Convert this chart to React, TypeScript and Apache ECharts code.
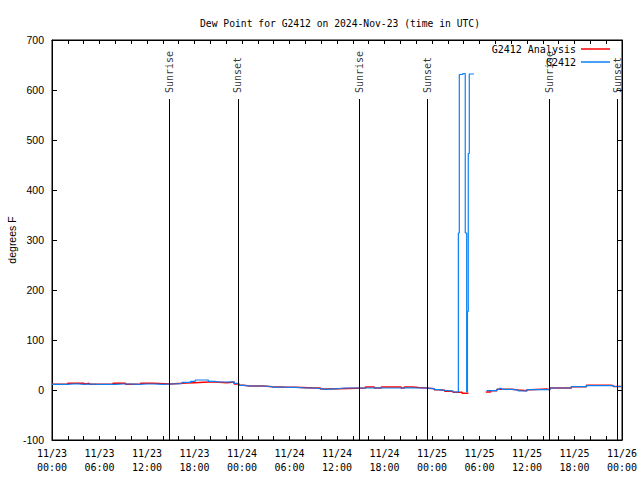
import React, { useEffect, useRef } from "react";
import * as echarts from "echarts";

const titleText = "Dew Point for G2412 on 2024-Nov-23 (time in UTC)";
const xTickLabels = [
  "11/23\n00:00", "11/23\n06:00", "11/23\n12:00", "11/23\n18:00",
  "11/24\n00:00", "11/24\n06:00", "11/24\n12:00", "11/24\n18:00",
  "11/25\n00:00", "11/25\n06:00", "11/25\n12:00", "11/25\n18:00",
  "11/26\n00:00",
];

// hours since 2024-11-23 00:00 UTC
const sunHours = [14.78, 23.49, 38.78, 47.4, 62.78, 71.43];
const sunLabels = ["Sunrise", "Sunset", "Sunrise", "Sunset", "Sunrise", "Sunset"];

const obsHours = [
  0, 1, 2, 3, 4, 5, 6, 7, 8, 9, 10, 11, 12, 13, 14, 15, 16.4, 17.5, 18.1, 19.75,
  20.6, 21, 22, 23, 23.6, 24.2, 25, 26, 26.7, 27.8, 28, 29, 30, 30.8, 32, 33.1,
  33.9, 34.5, 36.2, 37, 38, 39, 40, 41, 42, 43, 44, 45, 46, 47.2, 48.3, 48.8,
  49.6, 50.65, 51.33, 51.45, 51.9, 52.2, 52.38, 52.48, 52.58, 52.71, 53.21, 53.3,
  54.9, 56.2, 56.5, 56.8, 58.1, 58.9, 60, 61, 62, 62.9, 64, 65.6, 67.5, 69, 70.9, 72,
];
const obsDewPoint = [
  11.3, 11.3, 12.5, 11.3, 12, 11.3, 11.3, 11.3, 12, 12, 11.3, 12, 12, 11.3, 12, 12.7, 15.3, 17.3, 20, 17.3,
  16, 16, 16.5, 13.3, 9.3, 8, 8, 8, 6.7, 5.3, 6, 5.3, 5.3, 4, 4, 2.7,
  1.3, 2.7, 4, 4, 4, 4, 4.5, 4, 4, 4, 4.5, 4, 4, 2.7, 0.7, -0.7,
  -2, -4, 314, 631, 633, 314, -4, 157, 473, 632, 632, null,
  -1.3, 1.3, 3.3, 1.3, 0, -2, 0.7, 0.7, 0.7, 4, 4, 6.7, 8.7, 8.7, 7, 7,
];

const anaHours = [
  0, 1, 2, 4, 4.3, 4.7, 7.7, 9.3, 11.2, 12.7, 15, 16.4, 17, 18, 19.8, 20.6, 22.1, 23,
  23.6, 24.2, 25, 26.7, 27.8, 29.7, 30.8, 33.1, 33.9, 34.5, 36.2, 39.6, 40.7, 41.6,
  44.1, 44.5, 45.5, 46.3, 47.2, 48.3, 48.8, 49.6, 50.65, 51.8, 52.5, 52.6,
  54.8, 55.4, 56.2, 56.8, 58.1, 58.9, 60, 60.4, 62.5, 62.9, 65.6, 67.5, 70.6, 70.9, 72,
];
const anaDewPoint = [
  11.3, 11.3, 13.3, 12, 13.3, 11.3, 13.3, 11.3, 13.3, 12, 13.3, 14, 14.7, 16, 16, 14.7, 16, 12,
  9.3, 8, 8, 6.7, 5.3, 5.3, 4, 4, 2, 2.7, 4, 6, 4, 6,
  4, 6, 5, 4, 2.7, 0.7, -0.7, -2.5, -4.7, -6.7, -6.7, null,
  -4, -1.3, 1.3, 1.3, 0, -1.3, 0.7, 2, 0.7, 4, 6.7, 9.3, 8.7, 7, 7,
];

const MONO = "DejaVu Sans Mono";
const SANS = "Liberation Sans";

export default function App() {
  const ref = useRef<HTMLDivElement>(null);
  useEffect(() => {
    if (!ref.current) return;
    const chart = echarts.init(ref.current, null, { renderer: "svg" });
    const obsData = obsHours.map((h, i) => [h, obsDewPoint[i]]);
    const anaData = anaHours.map((h, i) => [h, anaDewPoint[i]]);
    const sunTop = 582;
    const xCommon = {
      type: "value" as const,
      min: 0,
      max: 72,
      interval: 2,
      splitLine: { show: false },
      axisLine: { onZero: false, lineStyle: { color: "#000", width: 1 } },
      axisTick: { inside: true, length: 4, lineStyle: { color: "#000" } },
    };
    const yCommon = {
      type: "value" as const,
      min: -100,
      max: 700,
      interval: 100,
      splitLine: { show: false },
      axisLine: { show: true, onZero: false, lineStyle: { color: "#000", width: 1 } },
      axisTick: { show: true, inside: true, length: 5, lineStyle: { color: "#000" } },
    };
    chart.setOption({
      animation: false,
      backgroundColor: "#fff",
      title: {
        text: titleText,
        left: 335,
        top: 13,
        textAlign: "center",
        textStyle: { fontFamily: MONO, fontSize: 9.7, fontWeight: "normal", color: "#000" },
      },
      legend: {
        orient: "vertical",
        align: "right",
        right: 30,
        top: 43,
        padding: 0,
        itemGap: 1,
        itemWidth: 29,
        itemHeight: 1.5,
        icon: "rect",
        data: ["G2412 Analysis", "G2412"],
        textStyle: { fontFamily: MONO, fontSize: 10, color: "#000", lineHeight: 12 },
      },
      grid: {
        left: 52,
        right: 18,
        top: 40,
        bottom: 40,
        outerBoundsMode: "none",
        containLabel: false,
        show: true,
        borderColor: "#000",
        borderWidth: 1,
        backgroundColor: "transparent",
      },
      xAxis: [
        {
          ...xCommon,
          position: "bottom",
          axisLabel: {
            margin: 6,
            fontFamily: MONO,
            fontSize: 10,
            lineHeight: 14,
            color: "#000",
            formatter: (v: number) => (v % 6 === 0 ? xTickLabels[v / 6] : ""),
          },
        },
        { ...xCommon, position: "top", axisLabel: { show: false } },
      ],
      yAxis: [
        {
          ...yCommon,
          position: "left",
          name: "degrees F",
          nameLocation: "middle",
          nameGap: 35,
          nameMoveOverlap: false,
          nameTextStyle: { fontFamily: SANS, fontSize: 10.5, color: "#000" },
          axisLabel: { margin: 8, fontFamily: SANS, fontSize: 10.5, color: "#000" },
        },
        { ...yCommon, position: "right", axisLabel: { show: false } },
      ],
      series: [
        {
          name: "sun",
          type: "scatter",
          xAxisIndex: 0,
          yAxisIndex: 0,
          symbolSize: 0,
          silent: true,
          data: sunHours.map((h, i) => ({ value: [h, sunTop + 12], name: sunLabels[i] })),
          label: {
            show: true,
            position: "inside",
            rotate: 90,
            align: "left",
            verticalAlign: "middle",
            formatter: (p: any) => p.name,
            fontFamily: MONO,
            fontSize: 10,
            color: "#000",
          },
          markLine: {
            silent: true,
            symbol: ["none", "none"],
            label: { show: false },
            lineStyle: { color: "#000", width: 1, type: "solid" },
            data: sunHours.map((h) => [{ coord: [h, sunTop] }, { coord: [h, -100] }]),
          },
        },
        {
          name: "G2412 Analysis",
          type: "line",
          step: "end",
          xAxisIndex: 0,
          yAxisIndex: 0,
          symbol: "none",
          connectNulls: false,
          color: "#ff0000",
          lineStyle: { color: "#ff0000", width: 1.5 },
          data: anaData,
        },
        {
          name: "G2412",
          type: "line",
          step: "end",
          xAxisIndex: 0,
          yAxisIndex: 0,
          symbol: "none",
          connectNulls: false,
          color: "#0a80f5",
          lineStyle: { color: "#0a80f5", width: 1.2 },
          data: obsData,
        },
      ],
    });
    return () => chart.dispose();
  }, []);
  return (
    <div
      ref={ref}
      style={{ position: "fixed", left: 0, top: 0, width: 640, height: 480, background: "#fff" }}
    />
  );
}
